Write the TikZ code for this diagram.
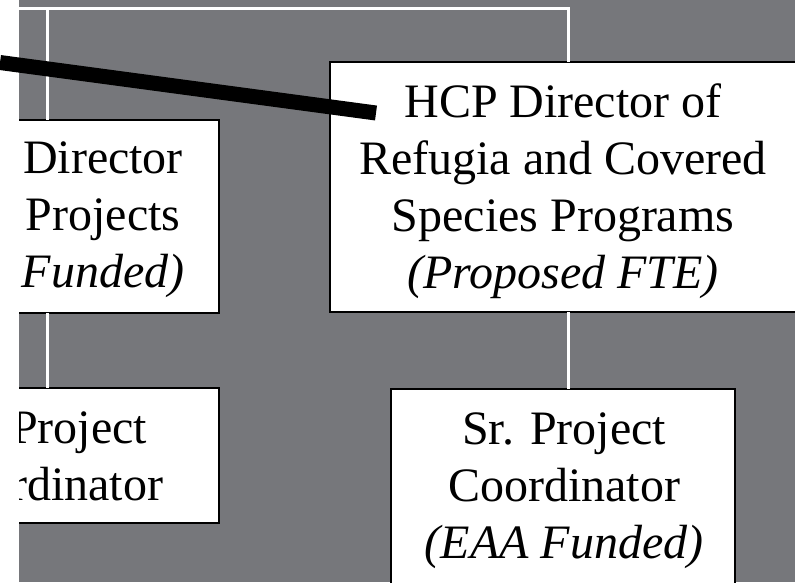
\documentclass[tikz,border=0pt]{standalone}
\usepackage{fontspec}
\setmainfont{Liberation Serif}
\usepackage{xcolor}
\usepackage{tikz}
\usetikzlibrary{calc}
\definecolor{bg}{HTML}{76777B}
\definecolor{paper}{HTML}{FFFFFF}
\definecolor{ink}{HTML}{000000}
\tikzset{
  box/.style={draw=ink, fill=paper, line width=1.6pt, inner sep=0pt, outer sep=0pt},
  wire/.style={draw=paper, line width=3pt},
  pointer/.style={draw=ink, line width=15pt, line cap=butt},
  txt/.style={text=ink, align=center, inner sep=0pt, font={\fontsize{48}{57}\selectfont}},
}

\begin{document}
\begin{tikzpicture}[x=1pt,y=-1pt]
  \useasboundingbox (0,0) rectangle (795,582);
  \fill[paper] (0,0) rectangle (795,582);

  \begin{scope}
    \clip (19,0) rectangle (795,582);
    \fill[bg] (19,0) rectangle (795,582);

    \coordinate (busL) at (19,8);
    \coordinate (busR) at (568,8);
    \coordinate (dropL) at (47,8);

    \node[box, minimum width=470pt, minimum height=250pt] (hcp) at (565,187) {};
    \node[box, minimum width=229pt, minimum height=193pt] (dir) at (104.5,216.5) {};
    \node[box, minimum width=229pt, minimum height=135pt] (crd) at (104.5,455.5) {};
    \node[box, minimum width=344pt, minimum height=211pt] (sr) at (563,494.5) {};

    \draw[wire] (busL) -- (busR) -- (busR |- hcp.north);   % top bus
    \draw[wire] (busR |- hcp.south) -- (busR |- sr.north);
    \draw[wire] (dropL) -- (dropL |- dir.north);
    \draw[wire] (dropL |- dir.south) -- (dropL |- crd.north);

    \node[txt] (hcpT) at (563,191) {HCP Director of\\Refugia and Covered\\Species Programs\\\textit{(Proposed FTE)}};
    \node[txt] (dirT) at (103,220) {Director\\Projects\\\textit{Funded)}};
    \node[txt, align=left, anchor=west] (crdT) at (11,456) {Project\\rdinator};
    \node[txt] (srT) at (564,491) {Sr. Project\\Coordinator\\\textit{(EAA Funded)}};
  \end{scope}

  \coordinate (ptrA) at (0,62.5);
  \coordinate (ptrB) at (376,113);
  \draw[pointer] (ptrA) -- (ptrB);
\end{tikzpicture}
\end{document}
